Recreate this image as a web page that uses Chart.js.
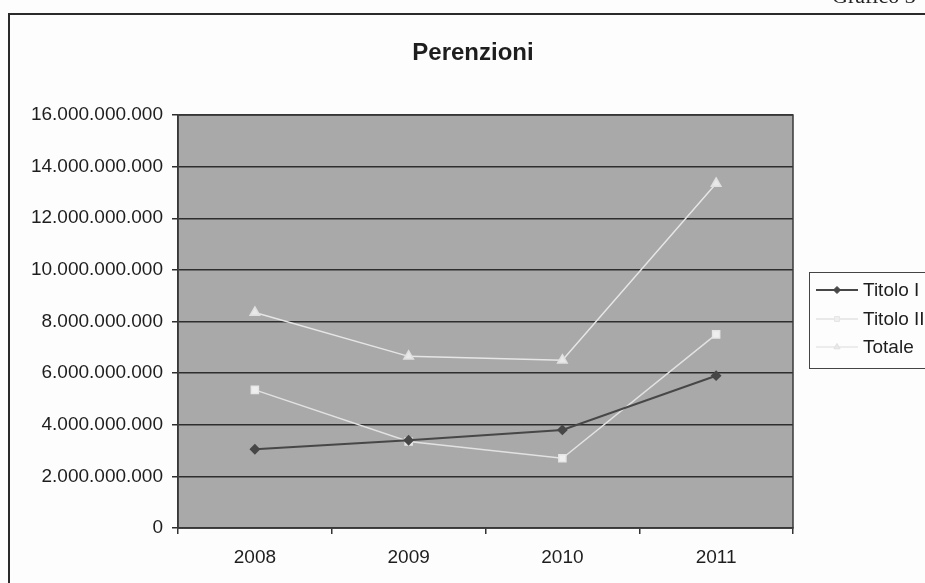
<!DOCTYPE html>
<html>
<head>
<meta charset="utf-8">
<script src="https://cdn.jsdelivr.net/npm/chart.js@4.4.0/dist/chart.umd.min.js"></script>
<style>
  html, body { margin: 0; padding: 0; background: #fdfdfd; }
  canvas { display: block; }
</style>
</head>
<body>
<canvas id="grafico" width="925" height="583"></canvas>
<script>
const anni = ["2008", "2009", "2010", "2011"];
const titoloI = [3050000000, 3400000000, 3800000000, 5900000000];
const titoloII = [5350000000, 3350000000, 2700000000, 7500000000];
const totale = [8350000000, 6650000000, 6500000000, 13350000000];
const yMax = 16000000000;
const yStep = 2000000000;

const FONT = "'Liberation Sans', Arial, sans-serif";

function formatta(v) {
  return String(v).replace(/\B(?=(\d{3})+(?!\d))/g, ".");
}

// sfondo, cornice, titolo e legenda disegnati a mano
const decorazioni = {
  id: "decorazioni",
  beforeDraw(chart) {
    const ctx = chart.ctx;
    const a = chart.chartArea;
    ctx.save();
    ctx.fillStyle = "#fdfdfd";
    ctx.fillRect(0, 0, chart.width, chart.height);
    ctx.fillStyle = "#a9a9a9";
    ctx.fillRect(a.left, a.top, a.right - a.left, a.bottom - a.top);
    ctx.restore();
  },
  afterDraw(chart) {
    const ctx = chart.ctx;
    const a = chart.chartArea;
    ctx.save();
    // bordo area grafico
    ctx.strokeStyle = "#3a3a3a";
    ctx.lineWidth = 1.5;
    ctx.strokeRect(a.left, a.top, a.right - a.left, a.bottom - a.top);

    // cornice esterna
    ctx.strokeStyle = "#2a2a2a";
    ctx.lineWidth = 2;
    ctx.beginPath();
    ctx.moveTo(9, 583);
    ctx.lineTo(9, 14);
    ctx.lineTo(925, 14);
    ctx.stroke();

    // testo tagliato in alto a destra
    ctx.fillStyle = "#222";
    ctx.font = "22px 'Liberation Serif', serif";
    ctx.textBaseline = "alphabetic";
    ctx.textAlign = "left";
    ctx.fillText("Grafico 3", 832, 3);

    // titolo
    ctx.font = "bold 24px " + FONT;
    ctx.textAlign = "center";
    ctx.textBaseline = "middle";
    ctx.fillStyle = "#1e1e1e";
    ctx.fillText("Perenzioni", 473, 53);

    // legenda
    ctx.strokeStyle = "#444";
    ctx.lineWidth = 1;
    ctx.fillStyle = "#fdfdfd";
    ctx.fillRect(809, 272, 130, 96);
    ctx.strokeRect(809.5, 272.5, 130, 96);
    const righe = [290, 319, 347];
    chart.data.datasets.forEach((ds, i) => {
      const y = righe[i];
      ctx.strokeStyle = ds.borderColor;
      ctx.lineWidth = ds.borderWidth;
      ctx.beginPath();
      ctx.moveTo(816, y);
      ctx.lineTo(858, y);
      ctx.stroke();
      ctx.fillStyle = ds.pointBackgroundColor;
      ctx.strokeStyle = ds.pointBorderColor;
      ctx.lineWidth = 1;
      Chart.helpers.drawPoint(ctx, { pointStyle: ds.pointStyle, radius: 3.5, borderWidth: 1 }, 837, y);
      ctx.fillStyle = "#1e1e1e";
      ctx.font = "19px " + FONT;
      ctx.textAlign = "left";
      ctx.textBaseline = "middle";
      ctx.fillText(ds.label, 863, y + 1);
    });
    ctx.restore();
  }
};

const ctx = document.getElementById("grafico").getContext("2d");
new Chart(ctx, {
  type: "line",
  data: {
    labels: anni,
    datasets: [
      {
        label: "Titolo I",
        data: titoloI,
        borderColor: "#474747",
        borderWidth: 2,
        pointStyle: "rectRot",
        pointRadius: 4,
        pointBackgroundColor: "#474747",
        pointBorderColor: "#474747",
        tension: 0
      },
      {
        label: "Titolo II",
        data: titoloII,
        borderColor: "#e2e2e2",
        borderWidth: 1.5,
        pointStyle: "rect",
        pointRadius: 5,
        pointBackgroundColor: "#efefef",
        pointBorderColor: "#e6e6e6",
        tension: 0
      },
      {
        label: "Totale",
        data: totale,
        borderColor: "#e6e6e6",
        borderWidth: 1.5,
        pointStyle: "triangle",
        pointRadius: 5.5,
        pointBackgroundColor: "#e9e9e9",
        pointBorderColor: "#e0e0e0",
        tension: 0
      }
    ]
  },
  options: {
    responsive: false,
    animation: false,
    layout: {
      padding: { top: 115, right: 132, left: 0, bottom: 0 }
    },
    plugins: {
      legend: { display: false },
      title: { display: false },
      tooltip: { enabled: false }
    },
    scales: {
      x: {
        offset: true,
        afterFit: (scale) => { scale.height = 55; },
        grid: {
          offset: true,
          drawOnChartArea: false,
          tickLength: 6,
          color: "#333",
          lineWidth: 1.5
        },
        border: { color: "#333", width: 1.5 },
        ticks: {
          padding: 12,
          color: "#1e1e1e",
          font: { family: FONT, size: 19 }
        }
      },
      y: {
        min: 0,
        max: yMax,
        afterFit: (scale) => { scale.width = 178; },
        grid: {
          tickLength: 6,
          color: "#2e2e2e",
          lineWidth: 1.5
        },
        border: { color: "#333", width: 1.5 },
        ticks: {
          stepSize: yStep,
          padding: 9,
          color: "#1e1e1e",
          font: { family: FONT, size: 19 },
          callback: (v) => formatta(v)
        }
      }
    }
  },
  plugins: [decorazioni]
});
</script>
</body>
</html>
